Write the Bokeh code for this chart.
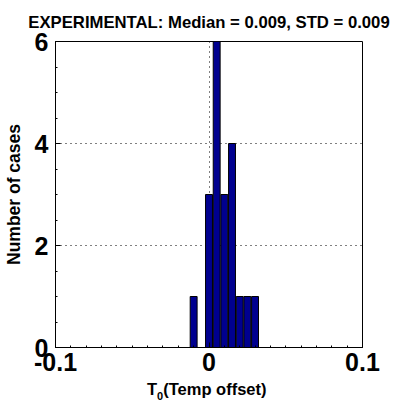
from bokeh.plotting import figure
from bokeh.models import Range1d, FixedTicker, Title, Div
from bokeh.layouts import column
from bokeh.embed import file_html
from bokeh.resources import INLINE

bin_centers = [-0.01, 0.0, 0.005, 0.01, 0.015, 0.02, 0.025, 0.03]
counts = [1, 3, 6, 3, 4, 1, 1, 1]
bin_width = 0.005
x_ticks = [-0.1, 0, 0.1]
x_tick_labels = ["-0.1", "0", "0.1"]
y_ticks = [0, 2, 4, 6]
x_minor = [round(-0.1 + i * 0.01, 3) for i in range(21)]
y_minor = [i * 0.5 for i in range(13)]

W = 396
LABEL_H = 26
H = 407 - LABEL_H
font = "Liberation Sans"

p = figure(width=W, height=H, output_backend="svg", toolbar_location=None,
           x_range=Range1d(-0.1, 0.1), y_range=Range1d(0, 6),
           min_border_left=53, min_border_right=34, min_border_top=40, min_border_bottom=34)

p.vbar(x=bin_centers, top=counts, width=bin_width * 0.9, bottom=0,
       fill_color="#00008F", line_color="black", line_width=1)

p.title = Title(text="EXPERIMENTAL: Median = 0.009, STD = 0.009", align="center",
                text_font=font, text_font_size="16.7px", text_font_style="bold",
                text_color="black", offset=0, standoff=20)

for ax in (p.xaxis[0], p.yaxis[0]):
    ax.major_label_text_font = font
    ax.major_label_text_font_size = "25px"
    ax.major_label_text_font_style = "bold"
    ax.major_label_text_color = "black"
    ax.axis_label_text_font = font
    ax.axis_label_text_font_style = "bold"
    ax.axis_label_text_font_size = "17.5px"
    ax.axis_label_text_color = "black"
    ax.major_tick_in = 5
    ax.major_tick_out = 0
    ax.minor_tick_in = 2
    ax.minor_tick_out = 0
    ax.axis_line_color = "black"
    ax.major_tick_line_color = "black"
    ax.minor_tick_line_color = "black"

p.xaxis[0].ticker = FixedTicker(ticks=x_ticks, minor_ticks=x_minor)
p.yaxis[0].ticker = FixedTicker(ticks=y_ticks, minor_ticks=y_minor)
p.xaxis[0].major_label_overrides = dict(zip(x_ticks, x_tick_labels))
p.yaxis[0].axis_label = "Number of cases"
p.xaxis[0].major_label_standoff = 5
p.yaxis[0].major_label_standoff = 7
p.yaxis[0].axis_label_standoff = 8

p.xgrid.ticker = FixedTicker(ticks=[0])
p.ygrid.ticker = FixedTicker(ticks=[2, 4])
for g in (p.xgrid[0], p.ygrid[0]):
    g.grid_line_color = "black"
    g.grid_line_dash = "1 4"
    g.grid_line_width = 1

p.outline_line_color = "black"
p.outline_line_width = 1
p.background_fill_color = "white"
p.border_fill_color = "white"

xlabel = Div(
    text=("<div style=\"position:absolute; left:147px; top:-3px; white-space:nowrap; "
          "font-family:'Liberation Sans'; font-weight:bold; font-size:16.5px; color:black;\">"
          "T<span style=\"font-size:11px; position:relative; top:5px;\">0</span>(Temp offset)</div>"),
    width=W, height=LABEL_H, margin=(0, 0, 0, 0),
    styles={"position": "relative", "background-color": "white"},
)

layout = column(p, xlabel, spacing=0, margin=(0, 0, 0, 0))
open("out.html", "w").write(file_html(layout, INLINE))
